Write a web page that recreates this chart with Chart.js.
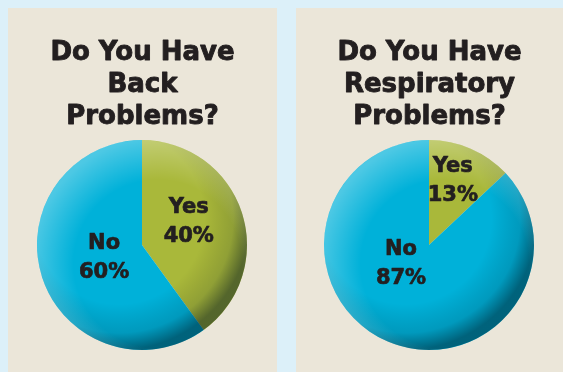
<!DOCTYPE html>
<html><head><meta charset="utf-8">
<script src="https://cdn.jsdelivr.net/npm/chart.js@4/dist/chart.umd.min.js"></script>
<style>
html,body{margin:0;padding:0;background:#dcf0f9;width:563px;height:372px;overflow:hidden;}
.panel{position:absolute;top:8px;height:364px;background:#ebe6d9;}
#p1{left:8px;width:269px;}
#p2{left:296px;width:267px;}
canvas{display:block;}
</style></head><body>
<div class="panel" id="p1"><canvas id="c1" width="269" height="364"></canvas></div>
<div class="panel" id="p2"><canvas id="c2" width="267" height="364"></canvas></div>
<script>
const categories = ['Yes', 'No'];
const backValues = [40, 60];
const respValues = [13, 87];
const backTitle = ['Do You Have', 'Back', 'Problems?'];
const respTitle = ['Do You Have', 'Respiratory', 'Problems?'];
const colors = ['#a9b83a', '#00b1d9'];
const FONT = '"DejaVu Sans", sans-serif';
const INK = '#231f20';

const shadePlugin = {
  id: 'shade',
  afterDatasetsDraw(chart) {
    const arc = chart.getDatasetMeta(0).data[0];
    if (!arc) return;
    const {x, y, outerRadius: r} = arc.getProps(['x','y','outerRadius'], true);
    const ctx = chart.ctx;
    ctx.save();
    ctx.beginPath(); ctx.arc(x, y, r, 0, Math.PI*2); ctx.clip();
    let g = ctx.createRadialGradient(x - r*0.22, y - r*0.25, 0, x - r*0.22, y - r*0.25, r*1.25);
    g.addColorStop(0, 'rgba(0,0,0,0)');
    g.addColorStop(0.65, 'rgba(0,0,0,0)');
    g.addColorStop(0.87, 'rgba(0,20,30,0.15)');
    g.addColorStop(1, 'rgba(0,20,30,0.5)');
    ctx.fillStyle = g; ctx.fillRect(x-r, y-r, 2*r, 2*r);
    let h = ctx.createRadialGradient(x + r*0.15, y + r*0.18, r*0.8, x + r*0.15, y + r*0.18, r*1.2);
    h.addColorStop(0, 'rgba(255,255,255,0)');
    h.addColorStop(1, 'rgba(255,255,255,0.3)');
    ctx.fillStyle = h; ctx.fillRect(x-r, y-r, 2*r, 2*r);
    ctx.restore();
  }
};

// heavy title drawn over the (transparent) Chart.js title block
const heavyTitle = {
  id: 'heavyTitle',
  afterDraw(chart) {
    const tb = chart.titleBlock;
    const t = chart.options.plugins.title;
    const lines = t.text;
    const lh = t.font.size * t.font.lineHeight;
    const ctx = chart.ctx;
    ctx.save();
    ctx.font = 'bold ' + t.font.size + 'px ' + FONT;
    ctx.fillStyle = INK; ctx.strokeStyle = INK; ctx.lineWidth = 0.9; ctx.lineJoin = 'round';
    ctx.textAlign = 'center'; ctx.textBaseline = 'middle';
    const cx = chart.width / 2;
    lines.forEach((s, i) => {
      const y = tb.top + t.padding.top + lh * (i + 0.5);
      ctx.fillText(s, cx, y); ctx.strokeText(s, cx, y);
    });
    ctx.restore();
  }
};

const labelPlugin = {
  id: 'sliceLabels',
  afterDraw(chart, args, opts) {
    const meta = chart.getDatasetMeta(0);
    const ds = chart.data.datasets[0];
    const ctx = chart.ctx;
    ctx.save();
    ctx.fillStyle = INK; ctx.strokeStyle = INK; ctx.lineWidth = 0.7; ctx.lineJoin = 'round';
    ctx.font = 'bold 21px ' + FONT;
    ctx.textAlign = 'center'; ctx.textBaseline = 'middle';
    meta.data.forEach((arc, i) => {
      const p = arc.getProps(['x','y','startAngle','endAngle','outerRadius'], true);
      const pos = opts.pos[i];
      const a = (p.startAngle + p.endAngle)/2 + pos.shift*Math.PI/180;
      const cx = p.x + Math.cos(a)*p.outerRadius*pos.r;
      const cy = p.y + Math.sin(a)*p.outerRadius*pos.r;
      const l1 = chart.data.labels[i], l2 = ds.data[i] + '%';
      ctx.fillText(l1, cx, cy - 14); ctx.strokeText(l1, cx, cy - 14);
      ctx.fillText(l2, cx, cy + 15); ctx.strokeText(l2, cx, cy + 15);
    });
    ctx.restore();
  }
};

function make(id, values, title, pos, sidePad) {
  return new Chart(document.getElementById(id), {
    type: 'pie',
    data: { labels: categories, datasets: [{ data: values, backgroundColor: colors, borderWidth: 0 }] },
    options: {
      responsive: false, animation: false,
      layout: { padding: { left: sidePad[0], right: sidePad[1], top: 0, bottom: 22 } },
      plugins: {
        legend: { display: false }, tooltip: { enabled: false },
        title: { display: true, text: title, color: 'rgba(0,0,0,0)',
          font: { family: FONT, size: 26, weight: 'bold', lineHeight: 32/26 },
          padding: { top: 29, bottom: 7 } },
        sliceLabels: { pos }
      }
    },
    plugins: [shadePlugin, labelPlugin, heavyTitle]
  });
}
make('c1', backValues, backTitle, [{r:0.50, shift:-9}, {r:0.38, shift:0}], [29, 30]);
make('c2', respValues, respTitle, [{r:0.65, shift:-3}, {r:0.32, shift:33}], [28, 29]);
</script>
</body></html>
